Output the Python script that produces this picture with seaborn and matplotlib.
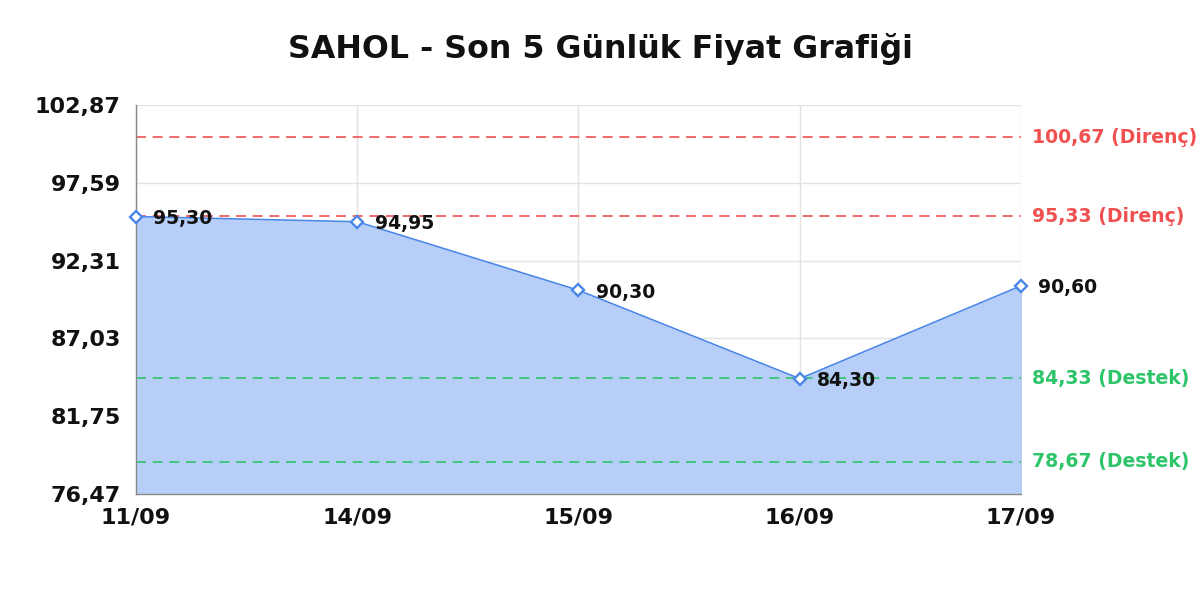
import numpy as np
import pandas as pd
import matplotlib
matplotlib.use("Agg")
import matplotlib.pyplot as plt
import seaborn as sns

# Data
dates = ["11/09", "14/09", "15/09", "16/09", "17/09"]
prices = [95.30, 94.95, 90.30, 84.30, 90.60]
resistance = [100.67, 95.33]
support = [84.33, 78.67]
yticks = [76.47, 81.75, 87.03, 92.31, 97.59, 102.87]

df = pd.DataFrame({"pos": range(len(dates)), "price": prices})

sns.set_style("white")
plt.rcParams["font.family"] = ["DejaVu Sans"]

fig = plt.figure(figsize=(12, 6), dpi=100)
ax = fig.add_axes([0.1133, 0.1767, 0.7375, 0.6483])

ymin, ymax = yticks[0], yticks[-1]
ax.fill_between(df["pos"], df["price"], ymin, color="#b7cff8", zorder=1)
sns.lineplot(data=df, x="pos", y="price", ax=ax, color="#4a86e8", linewidth=1.1,
             marker="D", markersize=6.5, markerfacecolor="white",
             markeredgecolor="#4a86e8", markeredgewidth=1.7, zorder=3, clip_on=False)

# point labels
for x, y in zip(df["pos"], df["price"]):
    ax.annotate(f"{y:.2f}".replace(".", ","), (x, y), xytext=(12.5, -1.5),
                textcoords="offset points", fontsize=13.5, fontweight="bold",
                color="#111111", va="center", ha="left", zorder=4,
                annotation_clip=False)

# resistance / support lines
for lvl in resistance:
    ax.axhline(lvl, color="#f05050", linestyle=(0, (6, 4)), linewidth=1.2, zorder=2)
    ax.text(1.0125, lvl, f"{lvl:.2f}".replace(".", ",") + " (Direnç)",
            transform=ax.get_yaxis_transform(), color="#f05050",
            fontsize=13.6, fontweight="bold", va="center", ha="left")
for lvl in support:
    ax.axhline(lvl, color="#2ec46a", linestyle=(0, (6, 4)), linewidth=1.2, zorder=2)
    ax.text(1.0125, lvl, f"{lvl:.2f}".replace(".", ",") + " (Destek)",
            transform=ax.get_yaxis_transform(), color="#2ec46a",
            fontsize=13.6, fontweight="bold", va="center", ha="left")

ax.set_xlim(0, len(dates) - 1)
ax.set_ylim(ymin, ymax)
ax.set_xticks(df["pos"])
ax.set_xticklabels(dates, fontsize=16, fontweight="bold", color="#111111")
ax.set_yticks(yticks)
ax.set_yticklabels([f"{t:.2f}".replace(".", ",") for t in yticks],
                   fontsize=16, fontweight="bold", color="#111111")
ax.grid(True, color="#e3e3e3", linewidth=1)
ax.set_axisbelow(True)
ax.tick_params(axis="y", length=0, pad=11)
ax.tick_params(axis="x", length=0, pad=10)
ax.set_xlabel("")
ax.set_ylabel("")

for side in ["top", "right"]:
    ax.spines[side].set_visible(False)
for side in ["left", "bottom"]:
    ax.spines[side].set_color("#888888")
    ax.spines[side].set_linewidth(1)

fig.suptitle("SAHOL - Son 5 Günlük Fiyat Grafiği", fontsize=22.8, fontweight="bold",
             color="#111111", y=0.945)

fig.savefig("out.png", dpi=100)
